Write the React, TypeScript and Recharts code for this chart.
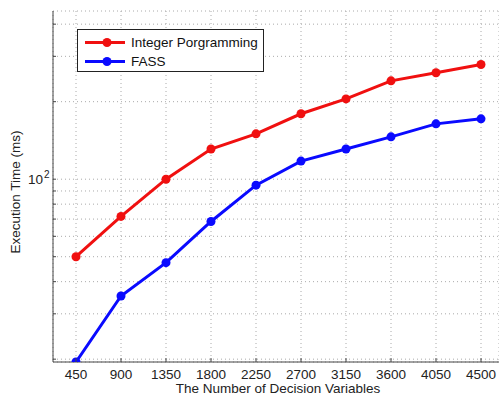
import {
  CartesianGrid,
  Legend,
  Line,
  LineChart,
  XAxis,
  YAxis,
} from "recharts";

const FONT = "'Liberation Sans', Arial, sans-serif";
const RED = "#f01010";
const BLUE = "#0a0aff";
const AXIS = "#444";

// number of decision variables (x)
const decisionVariables = [450, 900, 1350, 1800, 2250, 2700, 3150, 3600, 4050, 4500];
// execution time in ms
const integerProgramming = [50, 71.7, 100, 131, 150, 179.5, 205, 241, 259, 279];
const fass = [19.5, 35.2, 47.4, 68.5, 94.8, 117.6, 131, 146, 164, 171.6];

const yTicks = [20, 30, 40, 50, 60, 70, 80, 90, 100, 200, 300, 400];

const data = decisionVariables.map((n, i) => ({
  n,
  ip: integerProgramming[i],
  fass: fass[i],
}));

const PLOT_LEFT = 53;
const PLOT_TOP = 11;
const PLOT_BOTTOM = 362;

function BottomTick({ x, payload }: any) {
  return (
    <g>
      <line x1={x} x2={x} y1={PLOT_BOTTOM} y2={PLOT_BOTTOM - 4} stroke={AXIS} />
      <text x={x} y={379} textAnchor="middle" fontSize={13.5} fill="#222" fontFamily={FONT}>
        {payload.value}
      </text>
    </g>
  );
}

function TopTick({ x }: any) {
  return <line x1={x} x2={x} y1={PLOT_TOP} y2={PLOT_TOP + 4} stroke={AXIS} />;
}

function LeftTick({ y, payload }: any) {
  return (
    <g>
      <line x1={PLOT_LEFT} x2={PLOT_LEFT + 3} y1={y} y2={y} stroke={AXIS} />
      {payload.value === 100 && (
        <g fontFamily={FONT} fill="#222">
          <text x={43} y={y + 5} textAnchor="end" fontSize={13.5}>10</text>
          <text x={44} y={y - 1} fontSize={10}>2</text>
        </g>
      )}
    </g>
  );
}

function YTitle() {
  return (
    <text
      transform="translate(20,192) rotate(-90)"
      textAnchor="middle"
      fontSize={13.5}
      fill="#222"
      fontFamily={FONT}
    >
      Execution Time (ms)
    </text>
  );
}

function LegendBox() {
  const rows = [
    { name: "Integer Porgramming", color: RED },
    { name: "FASS", color: BLUE },
  ];
  return (
    <div
      style={{
        boxSizing: "border-box",
        width: 187,
        height: 43,
        border: "1px solid #222",
        background: "#fff",
        paddingTop: 3,
        fontFamily: FONT,
        fontSize: 13.5,
        color: "#111",
      }}
    >
      {rows.map((r) => (
        <div key={r.name} style={{ display: "flex", alignItems: "center", height: 19 }}>
          <svg width={53} height={19}>
            <line x1={7} x2={47} y1={9.5} y2={9.5} stroke={r.color} strokeWidth={3} />
            <circle cx={29} cy={9.5} r={4.5} fill={r.color} />
          </svg>
          <span>{r.name}</span>
        </div>
      ))}
    </div>
  );
}

export default function App() {
  return (
    <div style={{ width: 499, height: 396, background: "#fff", position: "relative" }}>
      <style>{"body{margin:0}"}</style>
      <LineChart
        width={499}
        height={396}
        data={data}
        margin={{ top: PLOT_TOP, right: 0, bottom: 0, left: 0 }}
      >
        <CartesianGrid stroke="#aaa" strokeDasharray="1 3" />
        <XAxis
          dataKey="n"
          type="number"
          domain={[220, 4680]}
          ticks={decisionVariables}
          interval={0}
          height={34}
          stroke={AXIS}
          tickLine={false}
          tick={<BottomTick />}
          allowDataOverflow
        />
        <XAxis
          xAxisId="top"
          orientation="top"
          dataKey="n"
          type="number"
          domain={[220, 4680]}
          ticks={decisionVariables}
          interval={0}
          height={0}
          stroke={AXIS}
          tickLine={false}
          tick={<TopTick />}
          allowDataOverflow
        />
        <YAxis
          scale="log"
          type="number"
          domain={[19.5, 450]}
          ticks={yTicks}
          interval={0}
          width={PLOT_LEFT}
          stroke={AXIS}
          tickLine={false}
          tick={<LeftTick />}
          allowDataOverflow
          label={{ content: () => <YTitle /> }}
        />
        <Legend
          layout="vertical"
          align="center"
          verticalAlign="middle"
          wrapperStyle={{ position: "absolute", left: 77, top: 29, width: 187, height: 43, margin: 0 }}
          content={() => <LegendBox />}
        />
        <Line
          dataKey="ip"
          stroke={RED}
          strokeWidth={3}
          dot={{ r: 4.5, fill: RED, stroke: RED, strokeWidth: 0 }}
          isAnimationActive={false}
        />
        <Line
          dataKey="fass"
          stroke={BLUE}
          strokeWidth={3}
          dot={{ r: 4.5, fill: BLUE, stroke: BLUE, strokeWidth: 0 }}
          isAnimationActive={false}
        />
      </LineChart>
      <div
        style={{
          position: "absolute",
          left: 0,
          width: 556,
          top: 381,
          lineHeight: "15px",
          textAlign: "center",
          fontFamily: FONT,
          fontSize: 13.5,
          color: "#222",
        }}
      >
        The Number of Decision Variables
      </div>
    </div>
  );
}
